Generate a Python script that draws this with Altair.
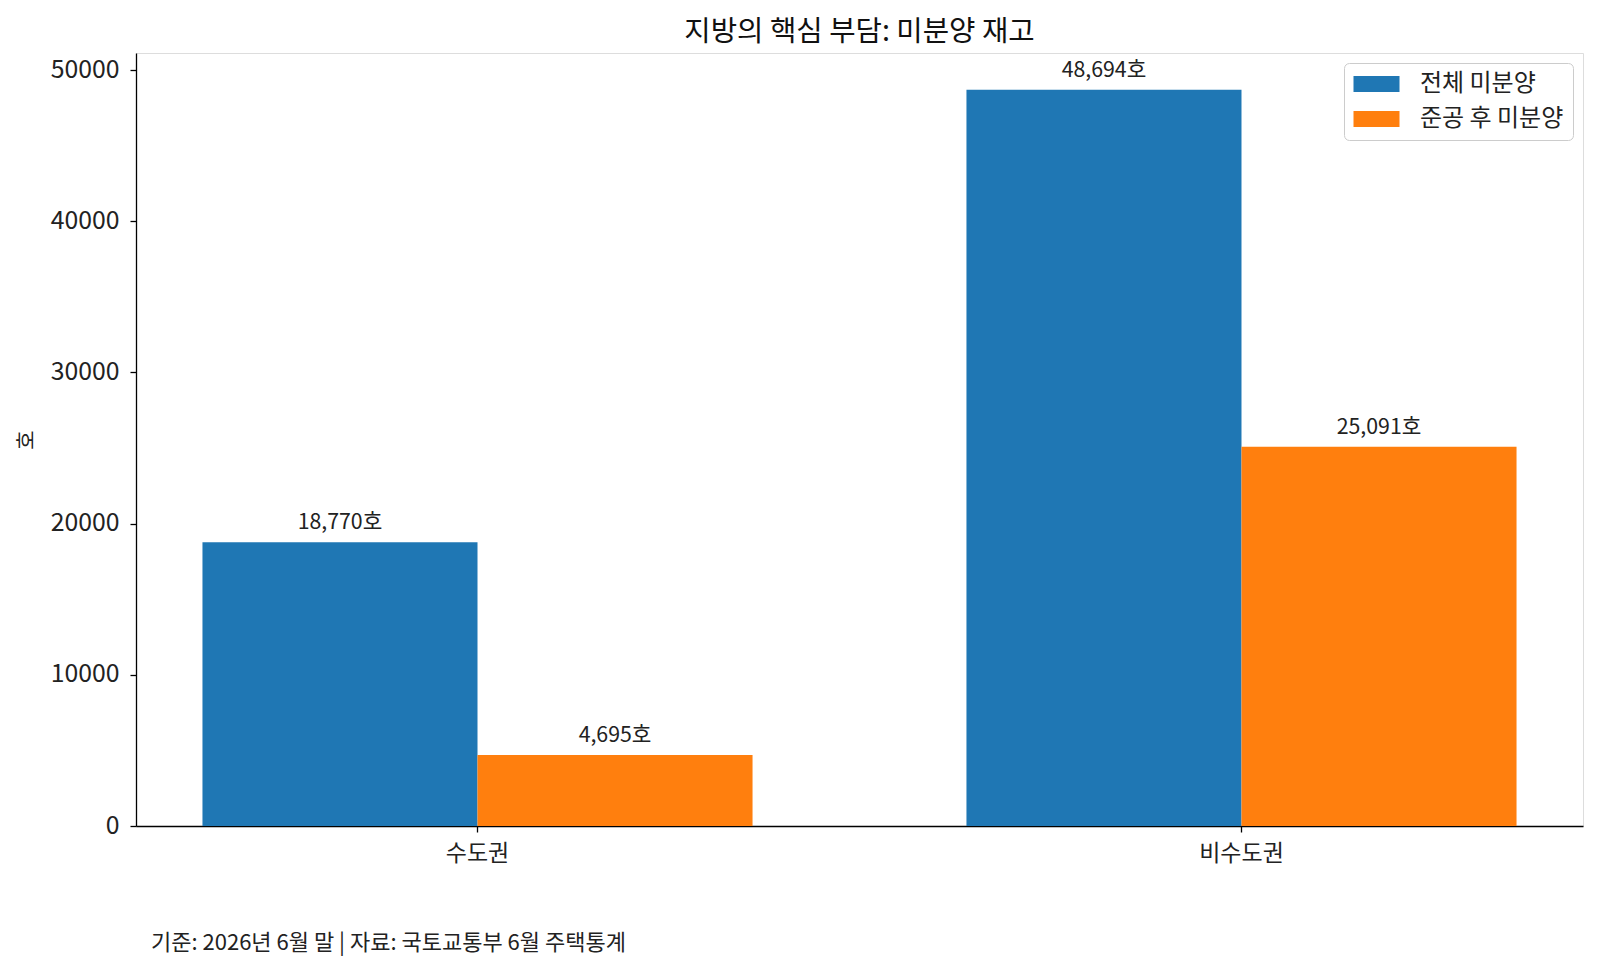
import altair as alt
import pandas as pd

regions = ["수도권", "비수도권"]
series = ["전체 미분양", "준공 후 미분양"]
total_unsold = [18770, 48694]
completed_unsold = [4695, 25091]

rows = []
for i, r in enumerate(regions):
    rows.append({"region": r, "series": series[0], "value": total_unsold[i]})
    rows.append({"region": r, "series": series[1], "value": completed_unsold[i]})
df = pd.DataFrame(rows)

FONT = "Noto Sans CJK KR"
W, H = 1447, 773

x_scale = alt.Scale(domain=regions, paddingInner=0.28, paddingOuter=0.087)
y_scale = alt.Scale(domain=[0, 51128.7], nice=False)
color_scale = alt.Scale(domain=series, range=["#1f77b4", "#ff7f0e"])

base = alt.Chart(df).encode(
    x=alt.X("region:N", scale=x_scale, sort=regions,
            axis=alt.Axis(title=None, labelAngle=0, labelFontSize=23, labelFont=FONT,
                          labelColor="#222", tickColor="#000", tickSize=6, tickWidth=1.3,
                          labelPadding=10, domainColor="#000", domainWidth=1.3)),
    xOffset=alt.XOffset("series:N", sort=series, scale=alt.Scale(domain=series, paddingInner=0, paddingOuter=0)),
)

bars = base.mark_bar().encode(
    y=alt.Y("value:Q", scale=y_scale,
            axis=alt.Axis(title="호", values=[0, 10000, 20000, 30000, 40000, 50000], format="d",
                          grid=False, labelFontSize=24.8, labelFont=FONT, labelColor="#222",
                          tickColor="#000", tickSize=6, tickWidth=1.3, labelPadding=11,
                          domainColor="#000", domainWidth=1.3,
                          titleFont=FONT, titleFontSize=21, titleFontWeight="normal",
                          titleColor="#222", titlePadding=14)),
    color=alt.Color("series:N", scale=color_scale, sort=series,
                    legend=alt.Legend(title=None, orient="top-right", offset=10,
                                      labelFont=FONT, labelFontSize=24, labelColor="#222",
                                      symbolType="M-1,-0.7L3,-0.7L3,0.7L-1,0.7Z",
                                      symbolSize=529, symbolStrokeWidth=0,
                                      strokeColor="#cccccc", fillColor="white",
                                      cornerRadius=5, padding=9, rowPadding=11,
                                      labelOffset=43, symbolOffset=0)),
)

labels = base.mark_text(baseline="alphabetic", dy=-13, fontSize=21.3, font=FONT, color="#222").transform_calculate(
    label="format(datum.value, ',') + '호'"
).encode(
    y=alt.Y("value:Q", scale=y_scale),
    text="label:N",
)

footer = alt.Chart(pd.DataFrame({"t": ["기준: 2026년 6월 말 | 자료: 국토교통부 6월 주택통계"]})).mark_text(
    align="left", baseline="middle", fontSize=22, font=FONT, color="#222"
).encode(x=alt.value(15), y=alt.value(890), text="t:N")

chart = alt.layer(bars, labels, footer).properties(
    width=W, height=H,
    title=alt.TitleParams("지방의 핵심 부담: 미분양 재고", font=FONT, fontSize=28.7,
                          fontWeight="normal", color="#111", offset=6),
    autosize=alt.AutoSizeParams(type="none"),
    padding={"left": 128, "top": 45, "right": 5, "bottom": 130},
).configure_view(stroke="#000", strokeWidth=1.3).configure(background="white")

chart.save("out.html", embed_options={"renderer": "svg", "actions": False})
